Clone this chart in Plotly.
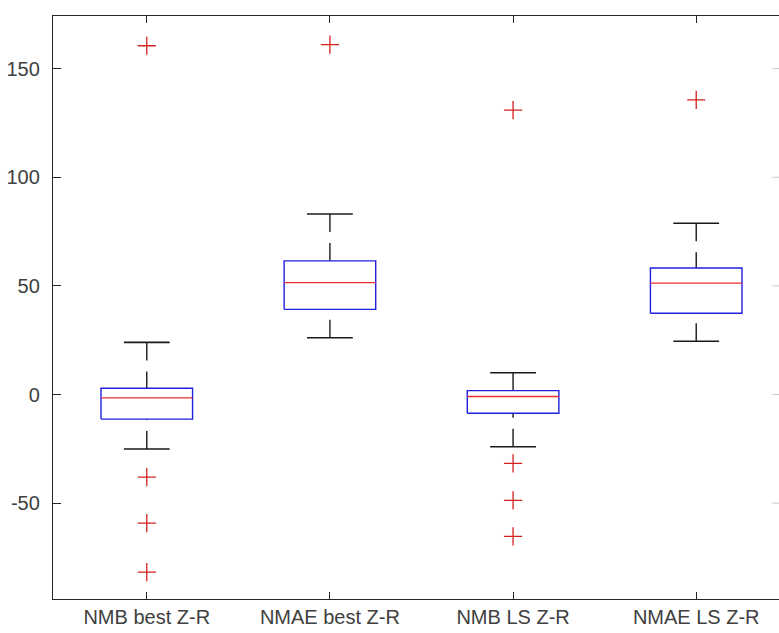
import plotly.graph_objects as go

# Box-plot summary statistics per group
categories = ["NMB best Z-R", "NMAE best Z-R", "NMB LS Z-R", "NMAE LS Z-R"]
lower_whisker = [-25.1, 26.1, -24.0, 24.5]
q1 = [-11.3, 39.2, -8.6, 37.4]
median = [-1.5, 51.5, -0.9, 51.3]
q3 = [2.9, 61.5, 1.8, 58.2]
upper_whisker = [24.0, 83.1, 10.0, 78.8]
outliers = [
    [160.5, -38.0, -59.2, -81.7],
    [161.0],
    [130.9, -31.7, -48.7, -65.3],
    [135.6],
]

y_tick_vals = [-50, 0, 50, 100, 150]
y_tick_text = ["-50", "0", "50", "100", "150"]

BOX_HALF = 0.25
CAP_HALF = 0.125
AXIS_COLOR = "#262626"
FONT = dict(family="Liberation Sans, Arial, sans-serif", size=20, color="#404040")

fig = go.Figure()

for i, name in enumerate(categories):
    x = i + 1
    # whiskers drawn from the cap towards the box
    for end, start in ((upper_whisker[i], q3[i]), (lower_whisker[i], q1[i])):
        fig.add_trace(go.Scatter(
            x=[x, x], y=[end, start], mode="lines",
            line=dict(color="#1a1a1a", width=1.4, dash="18px,11px"),
            hoverinfo="skip", showlegend=False))
        fig.add_trace(go.Scatter(
            x=[x - CAP_HALF, x + CAP_HALF], y=[end, end], mode="lines",
            line=dict(color="#1a1a1a", width=1.6),
            hoverinfo="skip", showlegend=False))
    # box
    fig.add_trace(go.Scatter(
        x=[x - BOX_HALF, x + BOX_HALF, x + BOX_HALF, x - BOX_HALF, x - BOX_HALF],
        y=[q1[i], q1[i], q3[i], q3[i], q1[i]], mode="lines",
        line=dict(color="#1f1fe0", width=1.4),
        hoverinfo="skip", showlegend=False))
    # median
    fig.add_trace(go.Scatter(
        x=[x - BOX_HALF, x + BOX_HALF], y=[median[i], median[i]], mode="lines",
        line=dict(color="#e8302f", width=1.3),
        hoverinfo="skip", showlegend=False))
    # outliers
    fig.add_trace(go.Scatter(
        x=[x] * len(outliers[i]), y=outliers[i], mode="markers",
        marker=dict(symbol="cross-thin", size=13,
                    line=dict(color="#d42020", width=1.3)),
        hoverinfo="skip", showlegend=False))

y_range = [-94.1, 174.2]

# faint tick marks along the right edge of the axes box
right_ticks = [
    dict(type="line", xref="paper", yref="y", x0=0.991, x1=1.0, y0=v, y1=v,
         line=dict(color="#c8c8c8", width=1))
    for v in y_tick_vals
]

fig.update_layout(
    width=779, height=633,
    margin=dict(l=53, r=0, t=16, b=34),
    plot_bgcolor="white", paper_bgcolor="white",
    font=FONT,
    showlegend=False,
    hovermode=False,
    shapes=right_ticks,
    xaxis=dict(
        range=[0.488, 4.452],
        tickvals=[1, 2, 3, 4], ticktext=categories,
        ticks="inside", ticklen=7, tickcolor=AXIS_COLOR, tickwidth=1,
        showline=True, linecolor=AXIS_COLOR, linewidth=1.3,
        mirror="ticks", showgrid=False, zeroline=False,
        ticklabelstandoff=0,
    ),
    yaxis=dict(
        range=y_range,
        tickvals=y_tick_vals, ticktext=y_tick_text,
        ticks="inside", ticklen=8, tickcolor=AXIS_COLOR, tickwidth=1,
        showline=True, linecolor=AXIS_COLOR, linewidth=1.3,
        showgrid=False, zeroline=False,
        ticklabelstandoff=8,
    ),
)

fig.write_html("out.html")
